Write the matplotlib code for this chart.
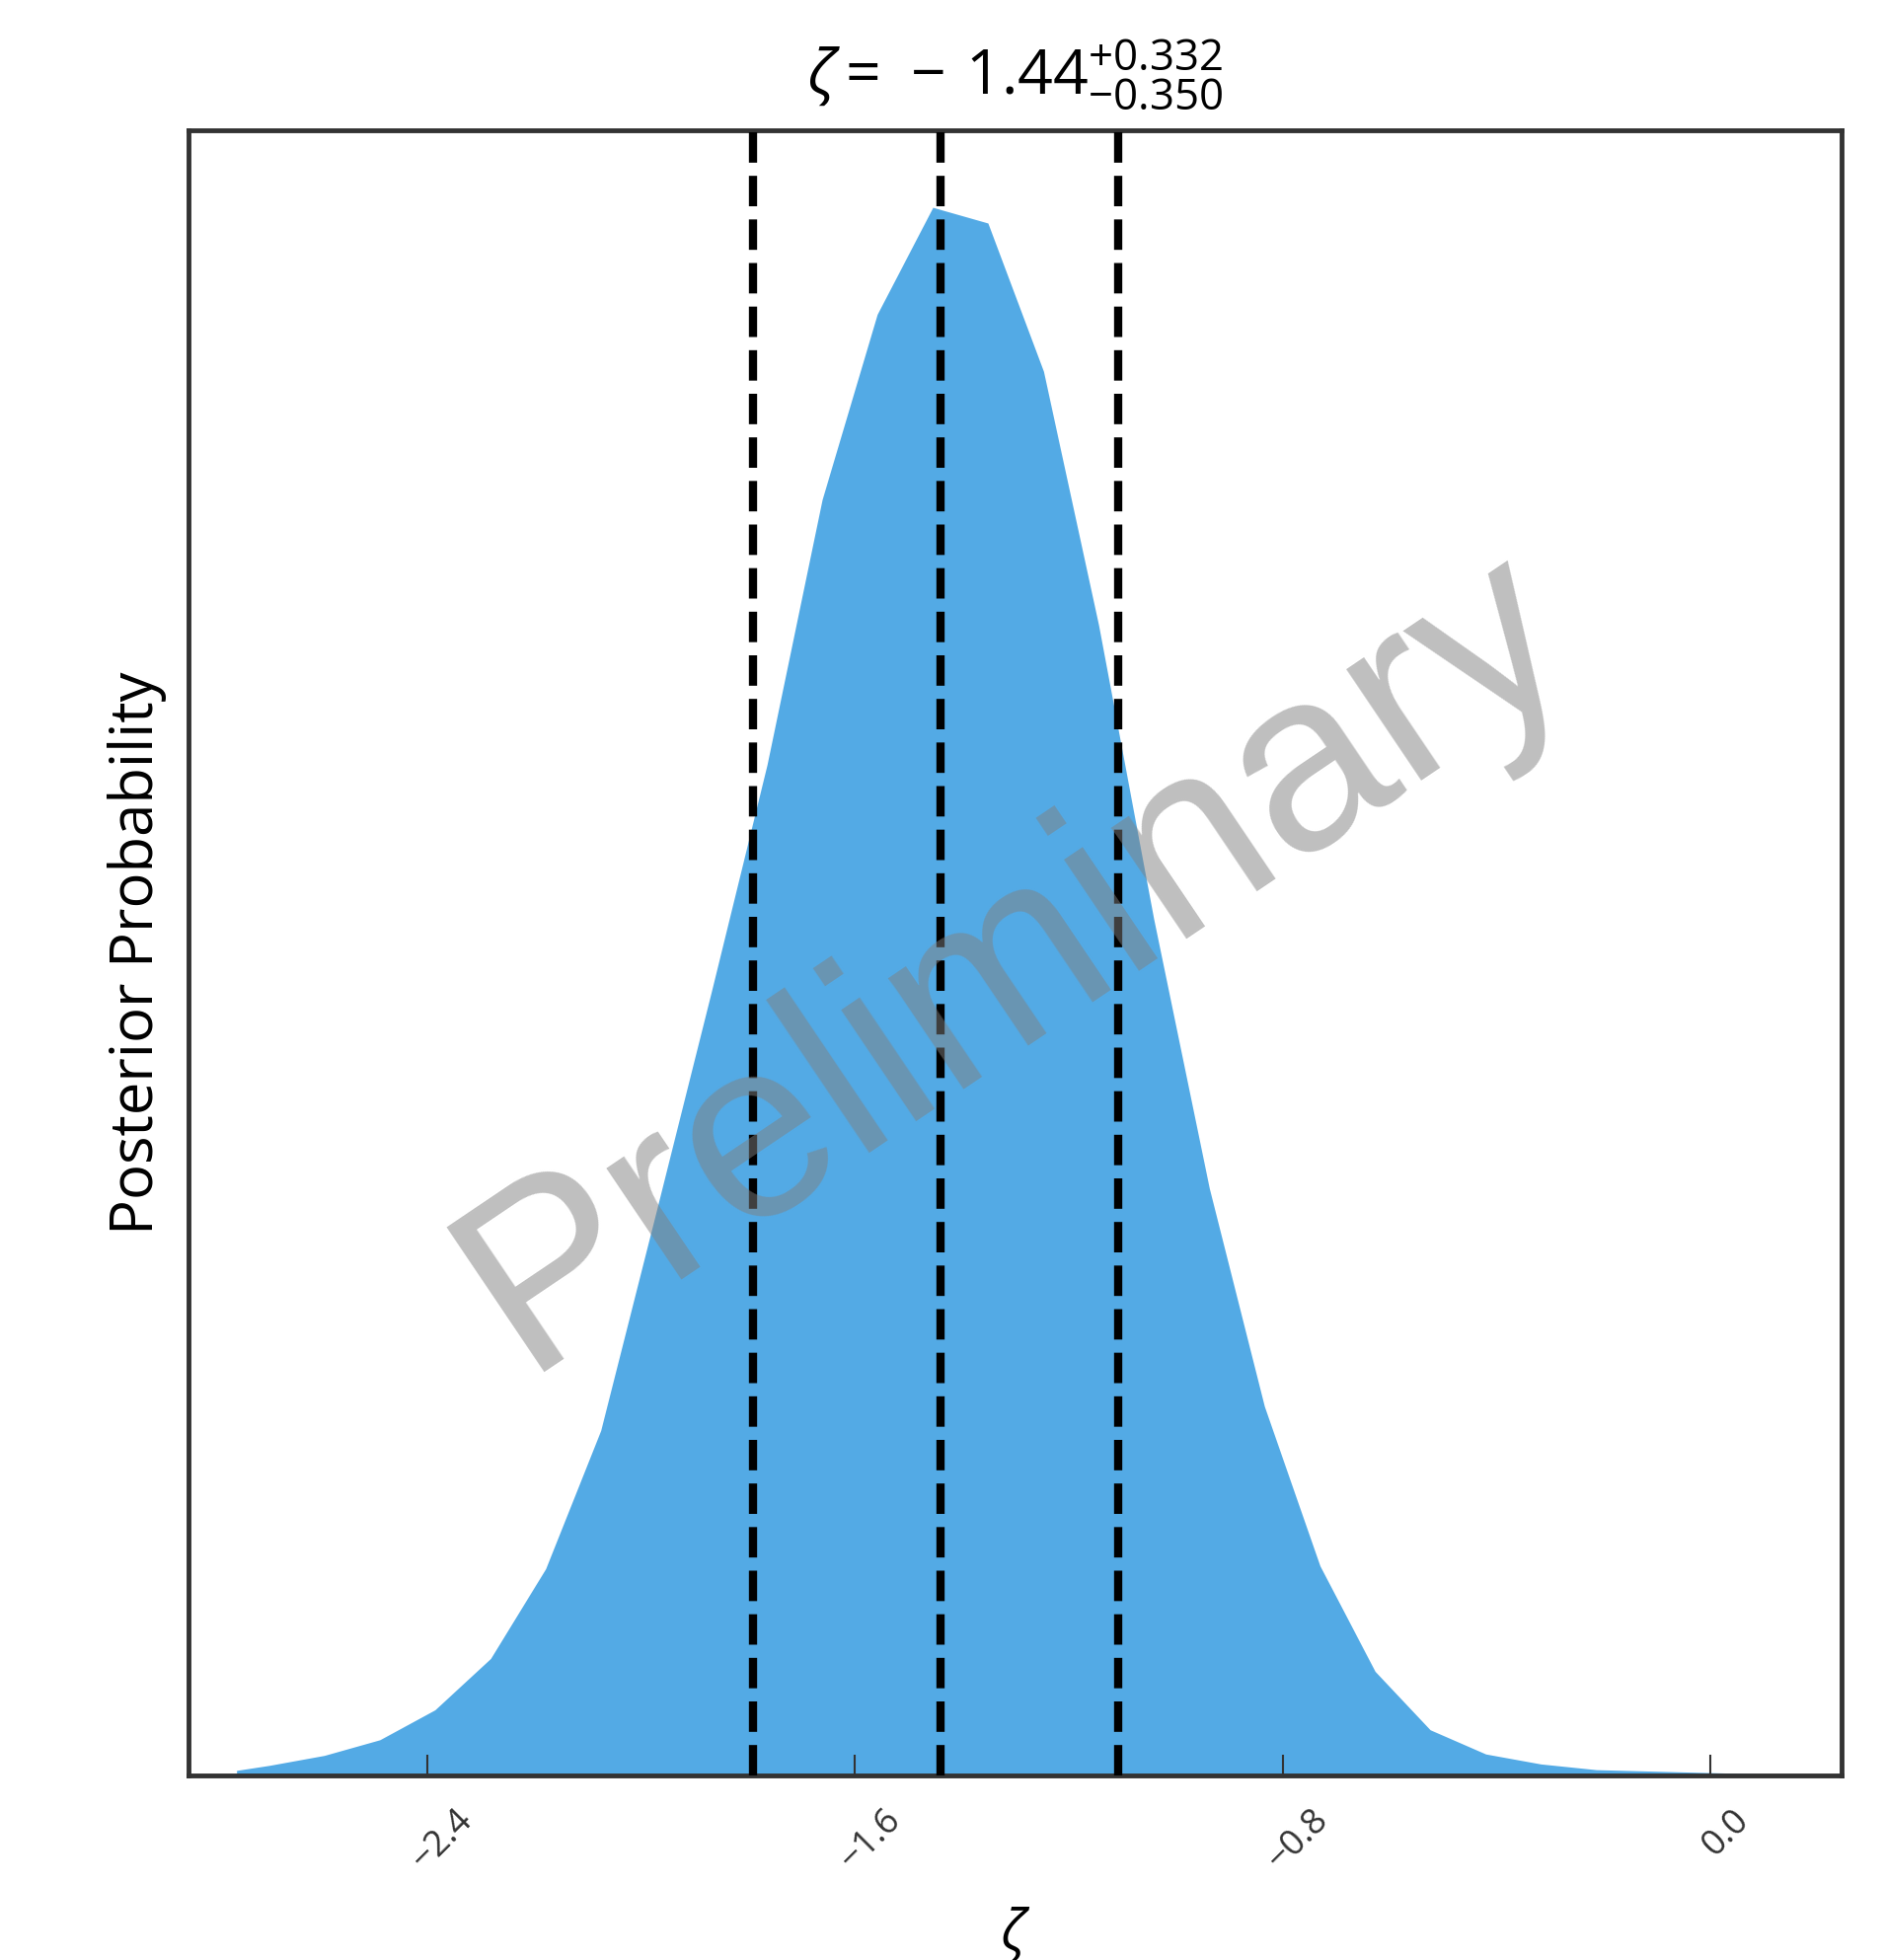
import matplotlib
matplotlib.use("Agg")
import matplotlib.pyplot as plt
from matplotlib.transforms import ScaledTranslation

# ---- data ----
zeta_grid = [-2.756, -2.695, -2.592, -2.488, -2.385, -2.281, -2.178, -2.075, -1.971,
             -1.868, -1.764, -1.661, -1.558, -1.454, -1.351, -1.247, -1.144, -1.041,
             -0.937, -0.834, -0.730, -0.627, -0.524, -0.420, -0.317, -0.213, -0.110,
             -0.007, 0.097, 0.157]
posterior = [0.0035, 0.007, 0.014, 0.025, 0.046, 0.082, 0.145, 0.242, 0.396,
             0.550, 0.709, 0.895, 1.025, 1.100, 1.089, 0.985, 0.807, 0.601,
             0.412, 0.259, 0.147, 0.073, 0.032, 0.015, 0.008, 0.004, 0.003,
             0.002, 0.001, 0.001]
median = -1.44
err_plus = 0.332
err_minus = 0.350
xtick_values = [-2.4, -1.6, -0.8, 0.0]
xtick_labels = ["\u22122.4", "\u22121.6", "\u22120.8", "0.0"]

plt.rcParams['font.family'] = ['Open Sans', 'DejaVu Sans']
plt.rcParams['mathtext.fontset'] = 'custom'
plt.rcParams['mathtext.rm'] = 'Open Sans'
plt.rcParams['mathtext.it'] = 'Open Sans:italic'
plt.rcParams['mathtext.bf'] = 'Open Sans:bold'
plt.rcParams['mathtext.fallback'] = 'stixsans'

fig = plt.figure(figsize=(19.09, 19.86), dpi=100)
ax = fig.add_axes([0.1, 0.0942, 0.8775, 0.8393])

ax.fill_between(zeta_grid, 0, posterior, color='#53aae5', linewidth=0, zorder=1)

for xv in [median - err_minus, median, median + err_plus]:
    ax.axvline(xv, color='black', linestyle='--', linewidth=6, zorder=3)

ax.set_xlim(-2.846, 0.2455)
ax.set_ylim(0, 1.154)
ax.set_yticks([])
ax.set_xticks(xtick_values)
ax.set_xticklabels(xtick_labels, rotation=45, fontsize=26, color='#333333')
ax.tick_params(axis='x', direction='in', length=15, width=1.5, color='#333333', pad=20)
offset = ScaledTranslation(0.16, 0, fig.dpi_scale_trans)
for lab in ax.get_xticklabels():
    lab.set_transform(lab.get_transform() + offset)

for sp in ax.spines.values():
    sp.set_linewidth(3.5)
    sp.set_color('#333333')

ax.set_ylabel('Posterior Probability', fontsize=43, labelpad=16)
ax.set_xlabel(r'$\zeta$', fontsize=40, labelpad=20)
ax.set_title(r'$\zeta=\,-\,1.44^{+0.332}_{-0.350}$', fontsize=45, pad=26)

ax.text(0.5, 0.495, 'Preliminary', transform=ax.transAxes, fontsize=186,
        family=['Liberation Sans', 'DejaVu Sans'], color='gray', alpha=0.5,
        rotation=34, ha='center', va='center', zorder=10)

fig.savefig('out.png', dpi=100)
